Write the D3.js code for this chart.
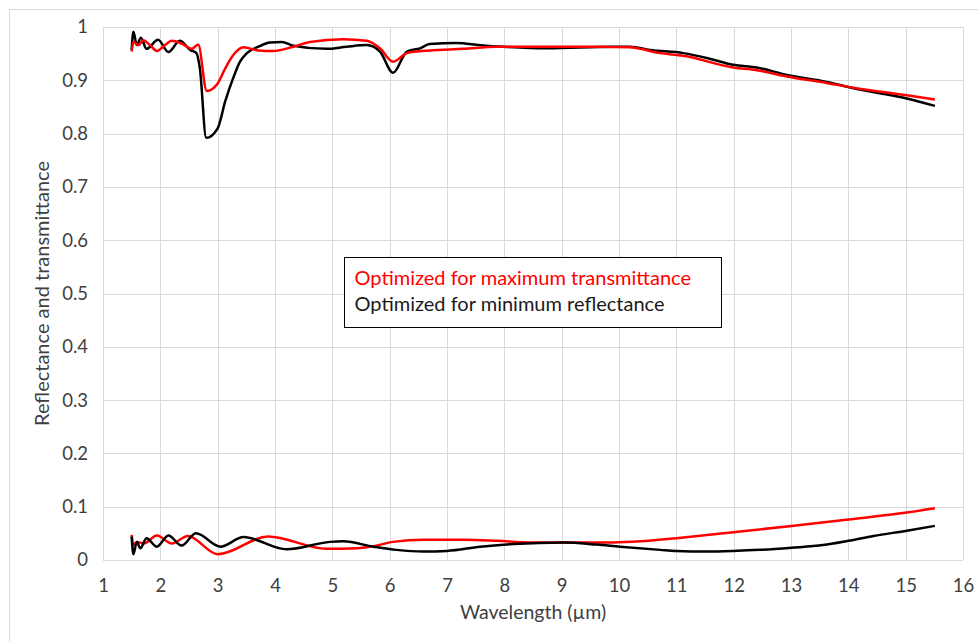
<!DOCTYPE html>
<html>
<head>
<meta charset="utf-8">
<script src="https://cdn.jsdelivr.net/npm/d3@7"></script>
<style>
  body { margin: 0; background: #fff; }
  svg { display: block; font-family: Lato, "Open Sans", sans-serif; }
</style>
</head>
<body>
<svg></svg>
<script>
// red, upper: optimized for maximum transmittance
const wlTransRed = [1.50, 1.53, 1.62, 1.70, 1.82, 1.94, 2.08, 2.20, 2.37, 2.55, 2.66, 2.81, 3.00, 3.13, 3.27, 3.45, 3.71, 3.97, 4.32, 4.61, 5.19, 5.60, 5.83, 6.06, 6.30, 6.70, 7.28, 7.87, 9.61, 10.19, 10.72, 11.12, 11.99, 12.40, 12.93, 13.62, 14.09, 15.02, 15.51];
const transRed = [0.954, 0.972, 0.966, 0.975, 0.966, 0.955, 0.966, 0.974, 0.969, 0.959, 0.967, 0.880, 0.894, 0.922, 0.947, 0.962, 0.956, 0.955, 0.963, 0.972, 0.977, 0.974, 0.960, 0.935, 0.951, 0.956, 0.959, 0.963, 0.963, 0.962, 0.951, 0.946, 0.924, 0.919, 0.907, 0.895, 0.886, 0.872, 0.864];

// black, upper: optimized for minimum reflectance
const wlTransBlack = [1.50, 1.53, 1.59, 1.66, 1.76, 1.96, 2.14, 2.34, 2.52, 2.63, 2.69, 2.80, 3.00, 3.13, 3.27, 3.39, 3.51, 3.71, 3.91, 4.12, 4.32, 4.90, 5.25, 5.60, 5.83, 6.06, 6.30, 6.53, 6.70, 7.17, 7.58, 7.98, 8.74, 9.90, 10.19, 10.54, 11.12, 11.53, 11.99, 12.40, 12.93, 13.62, 14.09, 15.02, 15.51];
const transBlack = [0.957, 0.991, 0.966, 0.980, 0.959, 0.976, 0.953, 0.974, 0.957, 0.951, 0.922, 0.792, 0.810, 0.860, 0.904, 0.935, 0.951, 0.963, 0.971, 0.972, 0.965, 0.959, 0.963, 0.966, 0.954, 0.914, 0.954, 0.960, 0.968, 0.970, 0.966, 0.963, 0.960, 0.963, 0.963, 0.957, 0.951, 0.942, 0.929, 0.924, 0.910, 0.897, 0.885, 0.866, 0.852];

// red, lower
const wlReflRed = [1.50, 1.53, 1.59, 1.71, 1.94, 2.20, 2.48, 3.00, 3.88, 4.90, 5.43, 5.72, 6.06, 6.59, 7.28, 7.87, 8.45, 9.03, 9.90, 10.37, 11.00, 11.99, 13.01, 14.00, 15.02, 15.51];
const reflRed = [0.047, 0.028, 0.034, 0.031, 0.046, 0.031, 0.045, 0.011, 0.044, 0.021, 0.022, 0.026, 0.034, 0.038, 0.038, 0.036, 0.033, 0.033, 0.033, 0.035, 0.041, 0.052, 0.064, 0.076, 0.089, 0.097];

// black, lower
const wlReflBlack = [1.50, 1.53, 1.59, 1.65, 1.76, 1.94, 2.14, 2.37, 2.62, 3.05, 3.45, 4.20, 4.96, 5.19, 5.72, 6.12, 6.59, 7.00, 7.58, 8.16, 9.03, 9.61, 10.02, 10.72, 11.00, 11.53, 11.99, 12.46, 13.01, 13.56, 14.00, 14.44, 15.02, 15.51];
const reflBlack = [0.044, 0.011, 0.034, 0.022, 0.041, 0.025, 0.046, 0.027, 0.050, 0.025, 0.043, 0.020, 0.034, 0.035, 0.025, 0.019, 0.016, 0.017, 0.025, 0.030, 0.033, 0.029, 0.025, 0.019, 0.017, 0.016, 0.017, 0.019, 0.023, 0.028, 0.036, 0.045, 0.055, 0.064];

const xTicks = d3.range(1, 17);
const yTicks = d3.range(0, 11).map(d => d / 10);
const legendLabels = ['Optimized for maximum transmittance', 'Optimized for minimum reflectance'];

const [width, height] = [978, 641];
const margin = {top: 27, right: 15, bottom: 81, left: 103};
const svg = d3.select('svg')
  .attr('width', width)
  .attr('height', height);

// outer chart frame
svg.append('rect')
  .attr('x', 9.5).attr('y', 9.5)
  .attr('width', width + 20).attr('height', height + 20)
  .attr('fill', 'none')
  .attr('stroke', '#d9d9d9');

const x = d3.scaleLinear().domain([1, 16]).range([margin.left, width - margin.right]);
const y = d3.scaleLinear().domain([0, 1]).range([height - margin.bottom, margin.top]);

// gridlines
svg.append('g')
  .selectAll('line')
  .data(xTicks)
  .join('line')
  .attr('x1', d => Math.round(x(d)) + 0.5).attr('x2', d => Math.round(x(d)) + 0.5)
  .attr('y1', y(1)).attr('y2', y(0))
  .attr('stroke', '#d9d9d9');
svg.append('g')
  .selectAll('line')
  .data(yTicks)
  .join('line')
  .attr('x1', x(1)).attr('x2', x(16))
  .attr('y1', d => Math.round(y(d)) + 0.5).attr('y2', d => Math.round(y(d)) + 0.5)
  .attr('stroke', '#d9d9d9');

// axes (tick labels only)
const xAxis = svg.append('g')
  .attr('transform', `translate(0, ${y(0)})`)
  .call(d3.axisBottom(x).tickValues(xTicks).tickSize(0).tickPadding(19).tickFormat(d3.format('d')));
const yAxis = svg.append('g')
  .attr('transform', `translate(${x(1)}, 0)`)
  .call(d3.axisLeft(y).tickValues(yTicks).tickSize(0).tickPadding(15).tickFormat(d => d === 0 || d === 1 ? d : d3.format('.1f')(d)));
[xAxis, yAxis].forEach(a => {
  a.select('.domain').remove();
  a.selectAll('text')
    .attr('font-family', 'Lato, sans-serif')
    .attr('font-size', 18.5)
    .attr('fill', '#404040');
});

svg.append('text')
  .attr('x', (x(1) + x(16)) / 2)
  .attr('y', 619)
  .attr('text-anchor', 'middle')
  .attr('font-size', 19.5)
  .attr('fill', '#404040')
  .text('Wavelength (µm)');
svg.append('text')
  .attr('transform', `translate(49, ${(y(0) + y(1)) / 2}) rotate(-90)`)
  .attr('text-anchor', 'middle')
  .attr('font-size', 20)
  .attr('fill', '#404040')
  .text('Reflectance and transmittance');

// curves
const line = d3.line()
  .x(d => x(d[0]))
  .y(d => y(d[1]))
  .curve(d3.curveMonotoneX);
const series = [
  {wl: wlReflRed, v: reflRed, color: '#ff0000'},
  {wl: wlReflBlack, v: reflBlack, color: '#000000'},
  {wl: wlTransBlack, v: transBlack, color: '#000000'},
  {wl: wlTransRed, v: transRed, color: '#ff0000'}
];
svg.append('g')
  .selectAll('path')
  .data(series)
  .join('path')
  .attr('fill', 'none')
  .attr('stroke', d => d.color)
  .attr('stroke-width', 2.5)
  .attr('stroke-linejoin', 'round')
  .attr('d', d => line(d.wl.map((w, i) => [w, d.v[i]])));

// legend
const legend = svg.append('g')
  .attr('transform', 'translate(344.5, 257.5)');
legend.append('rect')
  .attr('width', 377).attr('height', 70)
  .attr('fill', '#fff')
  .attr('stroke', '#000');
legend.selectAll('text')
  .data(legendLabels)
  .join('text')
  .attr('x', 10)
  .attr('y', (d, i) => 27 + i * 26)
  .attr('font-size', 20)
  .attr('fill', (d, i) => i === 0 ? '#ff0000' : '#1a1a1a')
  .text(d => d);
</script>
</body>
</html>
